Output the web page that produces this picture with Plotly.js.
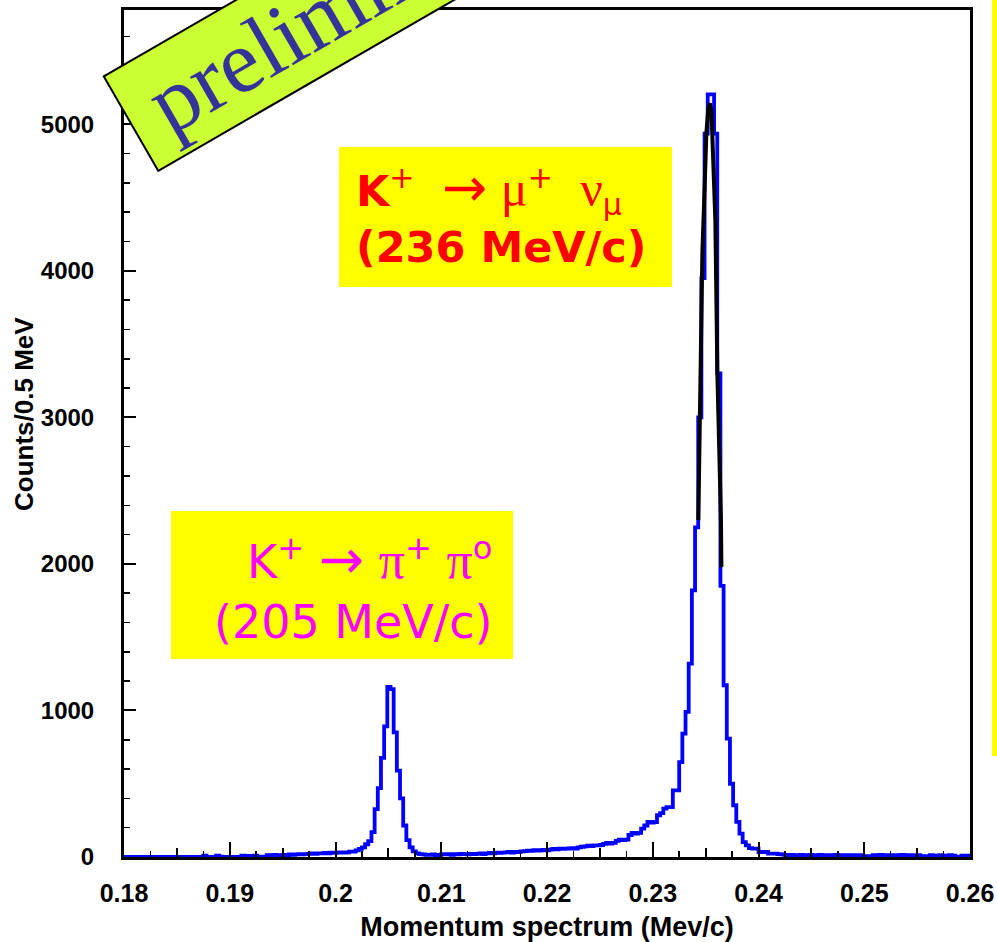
<!DOCTYPE html>
<html>
<head>
<meta charset="utf-8">
<script src="https://cdn.plot.ly/plotly-3.0.1.min.js"></script>
<style>html,body{margin:0;padding:0;background:#fff;}#chart{width:997px;height:942px;}</style>
</head>
<body>
<div id="chart"></div>
<script>
// ---- data ----
const binStart = 0.18;      // GeV/c, first bin edge
const binWidth = 0.0003;    // GeV/c
const counts = [
  0,0,0,0,0,0,0,0,0,0,
  0,0,0,0,0,0,0,0,0,0,
  0,0,0,0,0,10,0,0,0,10,
  3,0,0,0,0,0,0,10,8,0,
  8,10,3,0,3,12,10,15,12,10,
  15,12,18,15,18,20,18,20,22,25,
  22,25,25,28,25,30,28,30,32,30,
  32,36,36,45,55,65,87,109,170,327,
  470,677,892,1160,1145,850,590,400,215,115,
  65,38,25,20,18,15,15,18,12,15,
  20,18,20,15,20,18,22,20,18,22,
  20,22,25,20,25,28,25,30,28,30,
  32,34,30,35,34,38,40,44,42,46,
  44,46,48,46,50,55,52,57,55,57,
  58,60,57,65,70,72,78,75,80,80,
  82,90,96,92,96,110,119,115,119,150,
  164,160,164,193,215,239,235,239,285,300,
  330,341,341,455,455,648,842,990,1320,1820,
  2250,3000,3950,4936,5204,5204,4936,3300,1850,1172,
  808,500,353,240,160,102,80,60,57,57,
  34,34,34,23,23,23,20,18,15,12,
  15,12,12,15,12,12,15,12,12,15,
  12,5,12,12,15,12,12,10,12,12,
  12,10,12,5,3,5,12,12,15,12,
  12,10,12,12,12,15,12,12,10,12,
  12,5,3,5,12,10,10,12,10,10,
  12,10,3,3,10,10,10
];
// black fit curve over the K -> mu nu peak
const fitMomentum = [0.23431,0.23450,0.23469,0.23488,0.23507,0.23526,0.23540,0.23555,0.23574,0.23592,0.23611,0.23630,0.23645,0.23649];
const fitCounts   = [2299,3254,4120,4516,4939,5116,5143,5096,4775,4345,3302,2797,2299,1978];

const xTickVals   = [0.18,0.19,0.20,0.21,0.22,0.23,0.24,0.25,0.26];
const xTickLabels = ['0.18','0.19','0.2','0.21','0.22','0.23','0.24','0.25','0.26'];

// ---- build step histogram from bins ----
const edges = [], stepY = [];
for (let i = 0; i < counts.length; i++) { edges.push(binStart + i * binWidth); stepY.push(counts[i]); }
edges.push(binStart + counts.length * binWidth); stepY.push(counts[counts.length - 1]);

// layout geometry (pixels)
const W = 997, H = 942, L = 124, R = 27, T = 10, B = 85;
const pw = W - L - R, ph = H - T - B;
const px = x => (x - L) / pw;
const py = y => (H - B - y) / ph;

const traces = [
  {type:'scatter', mode:'lines', x: edges, y: stepY, line:{shape:'hv', color:'#0000ff', width:3.8}, hoverinfo:'x+y', showlegend:false},
  {type:'scatter', mode:'lines', x: fitMomentum, y: fitCounts, line:{color:'#000000', width:4}, showlegend:false},
  {type:'scatter', mode:'lines', x:[null], y:[null], xaxis:'x2', showlegend:false, hoverinfo:'skip'}
];

const sans = 'Liberation Sans, Arial, sans-serif';
const layout = {
  width: W, height: H,
  margin: {l:L, r:R, t:T, b:B, pad:0},
  paper_bgcolor:'#ffffff', plot_bgcolor:'#ffffff',
  showlegend:false,
  xaxis: {
    range:[0.18,0.26], tickvals:xTickVals, ticktext:xTickLabels,
    ticks:'inside', ticklen:15, tickwidth:2, tickcolor:'#000',
    minor:{ticks:'inside', dtick:0.0025, tick0:0.18, ticklen:6, tickwidth:1.5, tickcolor:'#000', showgrid:false},
    showline:true, linewidth:3, linecolor:'#000', mirror:true, showgrid:false, zeroline:false,
    tickfont:{family:sans, size:25, color:'#000', weight:'bold'}, ticklabelstandoff: 12,
    title:{text:'Momentum spectrum (Mev/c)', font:{family:sans, size:27, color:'#000', weight:'bold'}, standoff:14}
  },
  xaxis2: {
    overlaying:'x', anchor:'y', side:'bottom', range:[0.18,0.26],
    tickmode:'linear', tick0:0.18, dtick:0.005, ticks:'inside', ticklen:9, tickwidth:2, tickcolor:'#000',
    showticklabels:false, showline:false, showgrid:false, zeroline:false
  },
  yaxis: {
    range:[0,5780], tickmode:'linear', tick0:0, dtick:1000,
    ticks:'inside', ticklen:12, tickwidth:2, tickcolor:'#000',
    minor:{ticks:'inside', dtick:200, ticklen:6, tickwidth:1.5, tickcolor:'#000', showgrid:false},
    showline:true, linewidth:3, linecolor:'#000', mirror:true, showgrid:false, zeroline:false,
    tickfont:{family:sans, size:24, color:'#000', weight:'bold'}, ticklabelstandoff: 22
  },
  shapes: [
    {type:'rect', xref:'paper', yref:'paper', x0:px(339), x1:px(672), y0:py(287), y1:py(147), fillcolor:'#ffff00', line:{width:0}, layer:'above'},
    {type:'rect', xref:'paper', yref:'paper', x0:px(171), x1:px(513), y0:py(659), y1:py(511), fillcolor:'#ffff00', line:{width:0}, layer:'above'},
    {type:'rect', xref:'paper', yref:'paper', x0:px(992), x1:px(1005), y0:py(756), y1:py(-10), fillcolor:'#ffff00', line:{width:0}, layer:'above'}
  ],
  annotations: [
    {xref:'paper', yref:'paper', x:px(24), y:py(414), xanchor:'center', yanchor:'middle', textangle:-90, showarrow:false,
     text:'Counts/0.5 MeV', font:{family:sans, size:26, color:'#000', weight:'bold'}},
    {xref:'paper', yref:'paper', x:px(327), y:py(11), xanchor:'center', yanchor:'middle',
     text:'\u00a0preliminary', textangle:-30, showarrow:false,
     font:{family:'Liberation Serif, Times New Roman, serif', size:90, color:'#333399'},
     bgcolor:'#ccff33', bordercolor:'#000', borderwidth:2, borderpad:4},
    {xref:'paper', yref:'paper', x:px(354), y:py(214), xanchor:'left', yanchor:'middle', align:'left', showarrow:false,
     text:'<b>K</b><sup>+</sup>  <span style="font-size:54px">→</span> <span style="font-family:Liberation Serif;font-size:50px">μ</span><sup>+</sup>  <span style="font-family:Liberation Serif;font-size:50px">ν</span><sub>μ</sub><br><b>(236 MeV/c)</b>',
     font:{family:'DejaVu Sans, sans-serif', size:43, color:'#ff0000'}},
    {xref:'paper', yref:'paper', x:px(495), y:py(588), xanchor:'right', yanchor:'middle', align:'right', showarrow:false,
     text:'K<sup>+</sup> <span style="font-size:54px">→</span> <span style="font-family:Liberation Serif;font-size:52px">π</span><sup>+</sup> <span style="font-family:Liberation Serif;font-size:52px">π</span><sup>o</sup><br>(205 MeV/c)',
     font:{family:'DejaVu Sans, sans-serif', size:46, color:'#ff00ff'}}
  ]
};

Plotly.newPlot('chart', traces, layout, {staticPlot:true, displayModeBar:false});
</script>
</body>
</html>
